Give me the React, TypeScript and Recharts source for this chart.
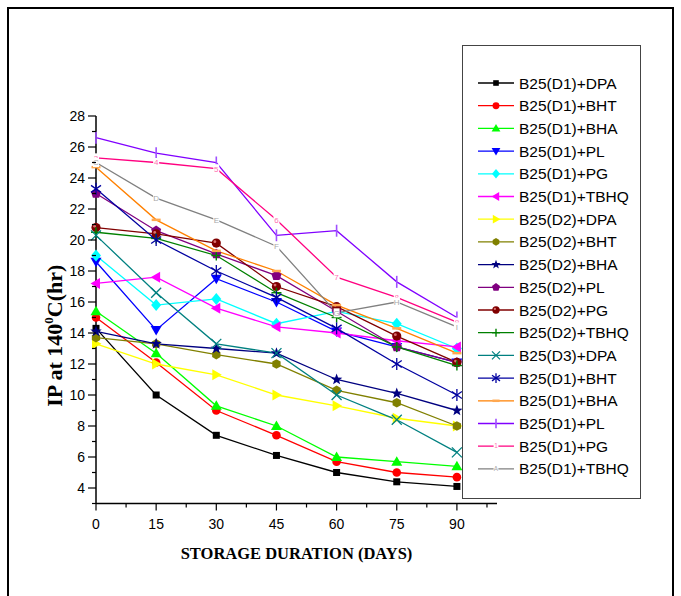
import React from 'react';
import { LineChart, Line, XAxis, YAxis } from 'recharts';

const days = [0, 15, 30, 45, 60, 75, 90];

const seriesNames = [
  'B25(D1)+DPA', 'B25(D1)+BHT', 'B25(D1)+BHA', 'B25(D1)+PL', 'B25(D1)+PG', 'B25(D1)+TBHQ',
  'B25(D2)+DPA', 'B25(D2)+BHT', 'B25(D2)+BHA', 'B25(D2)+PL', 'B25(D2)+PG', 'B25(D2)+TBHQ',
  'B25(D3)+DPA', 'B25(D1)+BHT', 'B25(D1)+BHA', 'B25(D1)+PL', 'B25(D1)+PG', 'B25(D1)+TBHQ',
];

const d1Dpa = [14.3, 10.0, 7.4, 6.1, 5.0, 4.4, 4.1];
const d1Bht = [15.0, 12.1, 9.0, 7.4, 5.7, 5.0, 4.7];
const d1Bha = [15.4, 12.7, 9.3, 8.0, 6.0, 5.7, 5.4];
const d1Pl = [18.6, 14.2, 17.5, 16.0, 14.1, 13.1, 12.1];
const d1Pg = [19.0, 15.8, 16.2, 14.6, 15.4, 14.6, 13.0];
const d1Tbhq = [17.2, 17.6, 15.6, 14.4, 14.0, 13.5, 13.1];
const d2Dpa = [13.3, 12.0, 11.3, 10.0, 9.3, 8.5, 8.0];
const d2Bht = [13.7, 13.3, 12.6, 12.0, 10.3, 9.5, 8.0];
const d2Bha = [14.1, 13.3, 13.0, 12.7, 11.0, 10.1, 9.0];
const d2Pl = [23.0, 20.6, 19.1, 17.7, 15.4, 13.1, 12.1];
const d2Pg = [20.8, 20.4, 19.8, 17.0, 15.7, 13.8, 12.1];
const d2Tbhq = [20.5, 20.1, 19.0, 16.6, 15.0, 13.1, 11.9];
const d3Dpa = [20.3, 16.6, 13.3, 12.7, 10.0, 8.4, 6.3];
const d1Bht2 = [23.3, 20.0, 18.0, 16.3, 14.3, 12.0, 10.0];
const d1Bha2 = [24.7, 21.3, 19.3, 18.0, 15.8, 14.3, 12.7];
const d1Pl2 = [26.6, 25.6, 25.0, 20.3, 20.6, 17.3, 15.0];
const d1Pg2 = [25.3, 25.0, 24.6, 21.3, 17.6, 16.3, 14.7];
const d1Tbhq2 = [25.0, 22.7, 21.3, 19.6, 15.3, 16.0, 14.4];

const seriesValues = [
  d1Dpa, d1Bht, d1Bha, d1Pl, d1Pg, d1Tbhq, d2Dpa, d2Bht, d2Bha, d2Pl, d2Pg, d2Tbhq,
  d3Dpa, d1Bht2, d1Bha2, d1Pl2, d1Pg2, d1Tbhq2,
];

const seriesColors = [
  '#000000', '#ff0000', '#00ff00', '#0000ff', '#00ffff', '#ff00ff',
  '#ffff00', '#808000', '#000080', '#800080', '#800000', '#008000',
  '#008080', '#0000a0', '#ff8000', '#8000ff', '#ff0080', '#808080',
];

const markerKinds = [
  'square', 'circle', 'triUp', 'triDown', 'diamond', 'triLeft',
  'triRight', 'hexagon', 'star', 'pentagon', 'sphere', 'plus',
  'cross', 'asterisk', 'dash', 'vbar', 'number', 'letter',
];

const pinkLabels = ['3', '4', '5', '6', '7', '8', '9'];
const grayLabels = ['C', 'D', 'E', 'F', 'G', 'H', 'I'];

const xTicks = [0, 7.5, 15, 22.5, 30, 37.5, 45, 52.5, 60, 67.5, 75, 82.5, 90, 97.5];
const xLabels = [0, 15, 30, 45, 60, 75, 90];
const yTicks = [3, 4, 5, 6, 7, 8, 9, 10, 11, 12, 13, 14, 15, 16, 17, 18, 19, 20, 21, 22, 23, 24, 25, 26, 27, 28];
const yLabels = [4, 6, 8, 10, 12, 14, 16, 18, 20, 22, 24, 26, 28];

const tableData = days.map((d, i) => {
  const row: any = { day: d };
  seriesValues.forEach((vals, s) => { row['s' + s] = vals[i]; });
  return row;
});

const poly = (cx: number, cy: number, n: number, r: number, rot: number) => {
  const pts: string[] = [];
  for (let k = 0; k < n; k++) {
    const a = rot + (k * 2 * Math.PI) / n;
    pts.push(`${cx + r * Math.cos(a)},${cy + r * Math.sin(a)}`);
  }
  return pts.join(' ');
};

const starPts = (cx: number, cy: number, ro: number, ri: number) => {
  const pts: string[] = [];
  for (let k = 0; k < 10; k++) {
    const r = k % 2 === 0 ? ro : ri;
    const a = -Math.PI / 2 + (k * Math.PI) / 5;
    pts.push(`${cx + r * Math.cos(a)},${cy + r * Math.sin(a)}`);
  }
  return pts.join(' ');
};

function Marker({ kind, cx, cy, color, s = 1, label }: any) {
  switch (kind) {
    case 'square':
      return <rect x={cx - 3.5 * s} y={cy - 3.5 * s} width={7 * s} height={7 * s} fill={color} />;
    case 'circle':
      return <circle cx={cx} cy={cy} r={4.3 * s} fill={color} />;
    case 'triUp':
      return <polygon points={`${cx},${cy - 5.5 * s} ${cx + 5.5 * s},${cy + 4 * s} ${cx - 5.5 * s},${cy + 4 * s}`} fill={color} />;
    case 'triDown':
      return <polygon points={`${cx},${cy + 5.5 * s} ${cx + 5.5 * s},${cy - 4 * s} ${cx - 5.5 * s},${cy - 4 * s}`} fill={color} />;
    case 'diamond':
      return <polygon points={`${cx},${cy - 6 * s} ${cx + 5 * s},${cy} ${cx},${cy + 6 * s} ${cx - 5 * s},${cy}`} fill={color} />;
    case 'triLeft':
      return <polygon points={`${cx - 5.5 * s},${cy} ${cx + 4 * s},${cy - 5.5 * s} ${cx + 4 * s},${cy + 5.5 * s}`} fill={color} />;
    case 'triRight':
      return <polygon points={`${cx + 5.5 * s},${cy} ${cx - 4 * s},${cy - 5.5 * s} ${cx - 4 * s},${cy + 5.5 * s}`} fill={color} />;
    case 'hexagon':
      return <polygon points={poly(cx, cy, 6, 4.8 * s, Math.PI / 6)} fill={color} />;
    case 'star':
      return <polygon points={starPts(cx, cy, 6 * s, 2.5 * s)} fill={color} />;
    case 'pentagon':
      return <polygon points={poly(cx, cy, 5, 5.3 * s, -Math.PI / 2)} fill={color} />;
    case 'sphere':
      return (
        <g>
          <circle cx={cx} cy={cy} r={4.6 * s} fill={color} />
          <circle cx={cx - 1.4 * s} cy={cy - 1.4 * s} r={1.4 * s} fill="#d87070" />
        </g>
      );
    case 'plus':
      return (
        <g stroke={color} strokeWidth={1.4}>
          <line x1={cx - 5 * s} x2={cx + 5 * s} y1={cy} y2={cy} />
          <line x1={cx} x2={cx} y1={cy - 5 * s} y2={cy + 5 * s} />
        </g>
      );
    case 'cross':
      return (
        <g stroke={color} strokeWidth={1.3}>
          <line x1={cx - 5 * s} x2={cx + 5 * s} y1={cy - 5 * s} y2={cy + 5 * s} />
          <line x1={cx - 5 * s} x2={cx + 5 * s} y1={cy + 5 * s} y2={cy - 5 * s} />
        </g>
      );
    case 'asterisk':
      return (
        <g stroke={color} strokeWidth={1.3}>
          <line x1={cx} x2={cx} y1={cy - 6 * s} y2={cy + 6 * s} />
          <line x1={cx - 5 * s} x2={cx + 5 * s} y1={cy - 3.5 * s} y2={cy + 3.5 * s} />
          <line x1={cx - 5 * s} x2={cx + 5 * s} y1={cy + 3.5 * s} y2={cy - 3.5 * s} />
        </g>
      );
    case 'dash':
      return <line x1={cx - 4.5 * s} x2={cx + 4.5 * s} y1={cy} y2={cy} stroke="#ffa850" strokeWidth={2.5} />;
    case 'vbar':
      return <line x1={cx} x2={cx} y1={cy - 6 * s} y2={cy + 6 * s} stroke="#a050ff" strokeWidth={1.6} />;
    case 'number':
      return (
        <g>
          <rect x={cx - 3 * s} y={cy - 4.5 * s} width={6 * s} height={9 * s} fill="#ffffff" />
          <text x={cx} y={cy} dy={2.8 * s} textAnchor="middle" fontSize={8 * s} fill="#ff70b0" fontFamily="'Liberation Sans', Arial, sans-serif">{label}</text>
        </g>
      );
    case 'letter':
      return (
        <g>
          <rect x={cx - 3 * s} y={cy - 4.5 * s} width={6 * s} height={9 * s} fill="#ffffff" />
          <text x={cx} y={cy} dy={2.8 * s} textAnchor="middle" fontSize={8 * s} fill="#a8a8a8" fontFamily="'Liberation Sans', Arial, sans-serif">{label}</text>
        </g>
      );
    default:
      return null;
  }
}

const tickFont = "'Liberation Sans Narrow', 'Liberation Sans', Arial, sans-serif";

const YTick = (props: any) => {
  const { x, y, payload } = props;
  const v = payload.value;
  const major = v % 2 === 0;
  return (
    <g>
      <line x1={x - (major ? 8 : 4)} x2={x} y1={y} y2={y} stroke="#000" strokeWidth={1.2} />
      {yLabels.includes(v) && (
        <text x={x - 11} y={y} dy={5} textAnchor="end" fontSize={14} fill="#000" fontFamily={tickFont}>{v}</text>
      )}
    </g>
  );
};

const XTick = (props: any) => {
  const { x, y, payload } = props;
  const v = payload.value;
  const major = xLabels.includes(v);
  return (
    <g>
      <line x1={x} x2={x} y1={y} y2={y + (major ? 7 : 4)} stroke="#000" strokeWidth={1.2} />
      {major && (
        <text x={x} y={y + 25} textAnchor="middle" fontSize={14} fill="#000" fontFamily={tickFont}>{v}</text>
      )}
    </g>
  );
};

const YTitle = (props: any) => {
  const vb = props.viewBox;
  const cx = vb.x + 62;
  const cy = vb.y + vb.height / 2 + 26;
  return (
    <text x={cx} y={cy} transform={`rotate(-90, ${cx}, ${cy})`} textAnchor="middle" fontSize={22} fontWeight="bold" fontFamily="'Liberation Serif', 'Times New Roman', serif" fill="#000">
      IP at 140<tspan fontSize={13} dy={-9}>0</tspan><tspan dy={9}>C(hr)</tspan>
    </text>
  );
};

const XTitle = (props: any) => {
  const vb = props.viewBox;
  return (
    <text x={vb.x + vb.width / 2} y={vb.y + 55} textAnchor="middle" fontSize={16.5} fontWeight="bold" fontFamily="'Liberation Serif', 'Times New Roman', serif" fill="#000">
      STORAGE DURATION (DAYS)
    </text>
  );
};

const dotRenderer = (s: number) => (p: any) => {
  const { cx, cy, index } = p;
  const label = markerKinds[s] === 'number' ? pinkLabels[index] : markerKinds[s] === 'letter' ? grayLabels[index] : undefined;
  return (
    <g key={`d${s}-${index}`}>
      <Marker kind={markerKinds[s]} cx={cx} cy={cy} color={seriesColors[s]} label={label} />
    </g>
  );
};

const legendLabel = (s: number) => (markerKinds[s] === 'number' ? '1' : markerKinds[s] === 'letter' ? 'A' : undefined);

export default function App() {
  return (
    <div style={{ position: 'absolute', left: 0, top: 0, width: 681, height: 596, overflow: 'hidden', background: '#fff' }}>
      <div style={{ position: 'absolute', left: 7, top: 7, width: 667, height: 600, boxSizing: 'border-box', border: '2px solid #000' }} />
      <div style={{ position: 'absolute', left: 0, top: 0 }}>
        <LineChart width={681} height={596} data={tableData} margin={{ top: 116, right: 184, bottom: 62.5, left: 0 }}>
          <XAxis
            dataKey="day"
            type="number"
            domain={[0, 100]}
            ticks={xTicks}
            interval={0}
            tickSize={0}
            tickMargin={0}
            tickLine={false}
            tick={<XTick />}
            height={30}
            axisLine={{ stroke: '#000', strokeWidth: 1.5 }}
            label={{ content: <XTitle /> }}
          />
          <YAxis
            type="number"
            domain={[3, 28]}
            ticks={yTicks}
            interval={0}
            tickSize={0}
            tickMargin={0}
            tickLine={false}
            tick={<YTick />}
            width={96}
            axisLine={{ stroke: '#000', strokeWidth: 1.5 }}
            label={{ content: <YTitle /> }}
          />
          {seriesValues.map((_, s) => (
            <Line
              key={s}
              type="linear"
              dataKey={'s' + s}
              stroke={seriesColors[s]}
              strokeWidth={1.3}
              dot={dotRenderer(s)}
              activeDot={false}
              isAnimationActive={false}
            />
          ))}
        </LineChart>
      </div>
      <div style={{ position: 'absolute', left: 462, top: 45, width: 179, height: 454, boxSizing: 'border-box', border: '1px solid #444', background: '#fff' }}>
        <svg width={177} height={452} style={{ display: 'block' }}>
          {seriesNames.map((name, s) => {
            const y = 37 + s * 22.7;
            return (
              <g key={s}>
                <line x1={15} x2={51} y1={y} y2={y} stroke={seriesColors[s]} strokeWidth={1.3} />
                <Marker kind={markerKinds[s]} cx={33} cy={y} color={seriesColors[s]} s={0.8} label={legendLabel(s)} />
                <text x={56} y={y} dy={5.5} fontSize={15.5} fill="#000" fontFamily="'Liberation Sans', Arial, sans-serif">{name}</text>
              </g>
            );
          })}
        </svg>
      </div>
    </div>
  );
}
